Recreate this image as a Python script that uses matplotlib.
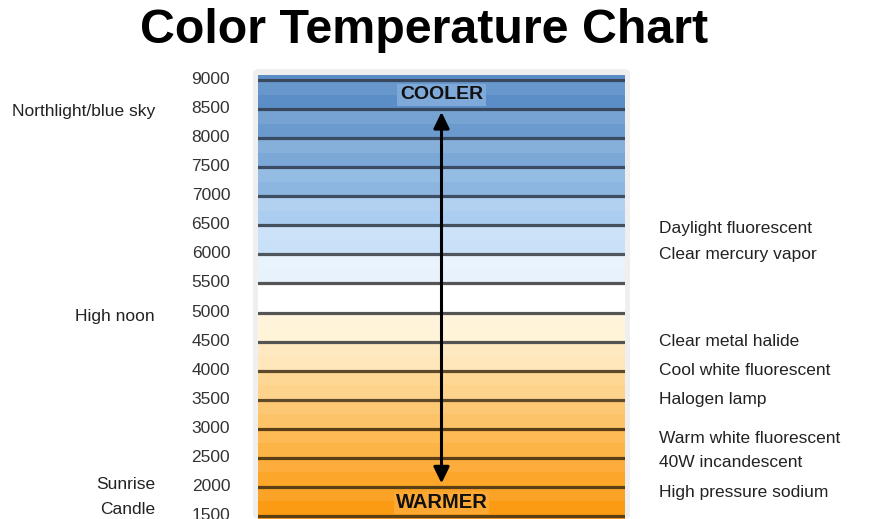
import matplotlib
matplotlib.use("Agg")
import matplotlib.pyplot as plt
import matplotlib.transforms as mtransforms
from matplotlib.patches import FancyBboxPatch
from matplotlib.colors import to_rgb
import numpy as np

plt.rcParams['font.family'] = ['Liberation Sans', 'DejaVu Sans']

# ---- data ----
title = "Color Temperature Chart"
tick_values = [1500, 2000, 2500, 3000, 3500, 4000, 4500, 5000, 5500, 6000, 6500, 7000, 7500, 8000, 8500, 9000]
band_bottoms = [1000, 1500, 2000, 2500, 3000, 3500, 4000, 4500, 5000, 5500, 6000, 6500, 7000, 7500, 8000, 8500, 9000]
band_colors = ['#fa960e', '#fb9b14', '#fca62a', '#fdb446', '#fdc368', '#fed48c', '#ffe7bb', '#fff3d8',
               '#ffffff', '#e7f2fd', '#c8e0f8', '#abcdf0', '#8cb6e0', '#7ba8d7', '#6b9bce', '#5b8ec6', '#5b8ec6']
line_colors = ['#5a3f14', '#5a3f14', '#5a3f14', '#5a3f14', '#5e4a2a', '#5e4a2a', '#555555', '#555555',
               '#555555', '#50565e', '#44505e', '#3e4e62', '#3b4c62', '#3b4c62', '#38495f', '#38495f']
left_labels = ["Northlight/blue sky", "High noon", "Sunrise", "Candle"]
left_values = [8460, 4930, 2050, 1620]
right_labels = ["Daylight fluorescent", "Clear mercury vapor", "Clear metal halide",
                "Cool white fluorescent", "Halogen lamp", "Warm white fluorescent",
                "40W incandescent", "High pressure sodium"]
right_values = [6450, 6000, 4500, 4000, 3500, 2840, 2420, 1900]
cooler_value, warmer_value = 8742, 1725
arrow_top, arrow_bottom = 8450, 2060

# ---- figure ----
W, H = 883, 519
fig = plt.figure(figsize=(W / 100, H / 100), dpi=100)
fig.patch.set_facecolor('white')

ax_left, ax_right, ax_top = 258, 625, 75
# faint shadow around the bar
shadow = FancyBboxPatch((ax_left / W - 5 / W, 0), (ax_right - ax_left + 10) / W, (H - ax_top + 6) / H,
                        boxstyle="round,pad=0,rounding_size=0.008", transform=fig.transFigure,
                        facecolor='#efefef', edgecolor='none', zorder=-5)
fig.patches.append(shadow)

ax = fig.add_axes([ax_left / W, 0, (ax_right - ax_left) / W, (H - ax_top) / H])
ax.set_zorder(2)
ax.set_xlim(0, 1)
ax.set_ylim(1448, 9086)
for s in ax.spines.values():
    s.set_visible(False)
ax.set_xticks([])

# bands with a soft highlight at the top of each
for b, c in zip(band_bottoms, band_colors):
    ax.bar(0.5, 500, bottom=b, width=1, color=c, edgecolor='none', zorder=1)
    rgb = np.array(to_rgb(c))
    light = rgb + (1 - rgb) * 0.08
    ax.bar(0.5, 500 * 0.5, bottom=b + 500 * 0.5, width=1, color=light, edgecolor='none', zorder=1.1)

for v, lc in zip(tick_values, line_colors):
    ax.axhline(v, color=lc, lw=2.3, zorder=2)

ax.set_yticks(tick_values)
ax.set_yticklabels([str(v) for v in tick_values])
ax.tick_params(axis='y', length=0, pad=20, labelsize=12.5, labelcolor='#333333')
offset = mtransforms.ScaledTranslation(0, 2 / 100, fig.dpi_scale_trans)
for lbl in ax.get_yticklabels():
    lbl.set_transform(lbl.get_transform() + offset)

# arrow
ax.annotate('', xy=(0.5, arrow_top), xytext=(0.5, arrow_bottom),
            arrowprops=dict(arrowstyle='<|-|>,head_length=0.7,head_width=0.34', lw=2.2,
                            color='black', mutation_scale=14, shrinkA=0, shrinkB=0), zorder=3)

ax.text(0.5, cooler_value, "COOLER", ha='center', va='center', fontsize=14, fontweight='bold',
        color='#111111', zorder=4,
        bbox=dict(boxstyle='square,pad=0.15', facecolor='#7ea9d8', edgecolor='none'))
ax.text(0.5, warmer_value, "WARMER", ha='center', va='center', fontsize=14.5, fontweight='bold',
        color='#111111', zorder=4,
        bbox=dict(boxstyle='square,pad=0.08', facecolor='#fca833', edgecolor='none'))

trans = ax.get_yaxis_transform()
for lab, v in zip(left_labels, left_values):
    ax.text((155 - ax_left) / (ax_right - ax_left), v, lab, transform=trans, ha='right', va='center',
            fontsize=12.5, color='#222222', clip_on=False)
for lab, v in zip(right_labels, right_values):
    ax.text((659 - ax_left) / (ax_right - ax_left), v, lab, transform=trans, ha='left', va='center',
            fontsize=12.5, color='#222222', clip_on=False)

fig.text(424 / W, 1 - 43 / H, title, ha='center', va='baseline', fontsize=34.8, fontweight='bold', color='black')

fig.savefig('out.png', dpi=100)
